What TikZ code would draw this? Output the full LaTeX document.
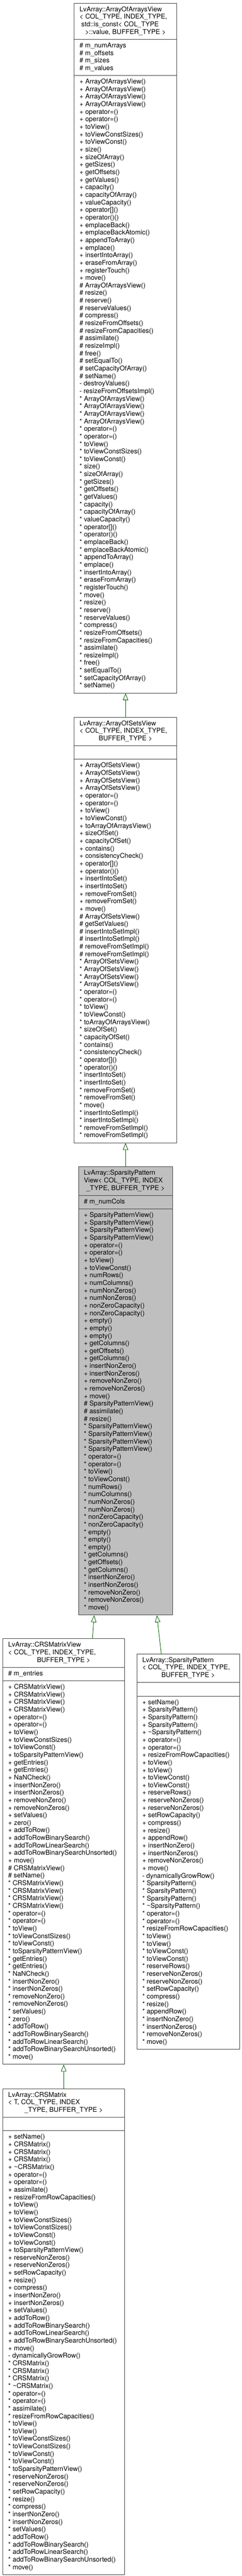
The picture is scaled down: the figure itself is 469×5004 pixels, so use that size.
\documentclass[tikz,border=0pt]{standalone}
\usepackage{fontspec}
\setmainfont{TeX Gyre Heros}
\usetikzlibrary{shapes.multipart, arrows.meta}
\definecolor{umlborder}{RGB}{64,64,64}
\definecolor{umlgreen}{RGB}{0,100,0}
\definecolor{umlgray}{RGB}{191,191,191}
\newdimen\titlew
\newcommand{\classfont}{\fontsize{12.9}{14.665}\selectfont}
\newcommand{\lastline}[1]{\makebox[\titlew][c]{#1}}
\tikzset{
	umlclass/.style={draw=umlborder, line width=1pt, fill=white,
		rectangle split, rectangle split parts=3,
		rectangle split part align={left,left,left},
		align=left, anchor=north west, inner xsep=10.5pt, inner ysep=5.3pt,
		minimum width=#1, font=\classfont,
		execute at begin node={\global\titlew=\dimexpr#1-21pt\relax}},
	inheritarrow/.style={draw=umlgreen, line width=0.9pt,
		-{Triangle[length=13.5pt, width=10.5pt, fill=white]}}
}
\begin{document}
\begin{tikzpicture}[x=1pt, y=-1pt]
	\useasboundingbox (0,0) rectangle (469,5004);
	% ArrayOfArraysView
	\node [umlclass=199.4pt] (aoav) at (143.3,5.7) {\strut LvArray::ArrayOfArraysView\\
		< COL\_TYPE, INDEX\_TYPE,\\
		\hspace{3.5pt}std::is\_const< COL\_TYPE\\
		\lastline{>::value, BUFFER\_TYPE >}\strut
		\nodepart{two}\strut\# m\_numArrays\\
		\# m\_offsets\\
		\# m\_sizes\\
		\# m\_values\strut
		\nodepart{three}\strut+ ArrayOfArraysView()\\
		+ ArrayOfArraysView()\\
		+ ArrayOfArraysView()\\
		+ ArrayOfArraysView()\\
		+ operator=()\\
		+ operator=()\\
		+ toView()\\
		+ toViewConstSizes()\\
		+ toViewConst()\\
		+ size()\\
		+ sizeOfArray()\\
		+ getSizes()\\
		+ getOffsets()\\
		+ getValues()\\
		+ capacity()\\
		+ capacityOfArray()\\
		+ valueCapacity()\\
		+ operator[]()\\
		+ operator()()\\
		+ emplaceBack()\\
		+ emplaceBackAtomic()\\
		+ appendToArray()\\
		+ emplace()\\
		+ insertIntoArray()\\
		+ eraseFromArray()\\
		+ registerTouch()\\
		+ move()\\
		\# ArrayOfArraysView()\\
		\# resize()\\
		\# reserve()\\
		\# reserveValues()\\
		\# compress()\\
		\# resizeFromOffsets()\\
		\# resizeFromCapacities()\\
		\# assimilate()\\
		\# resizeImpl()\\
		\# free()\\
		\# setEqualTo()\\
		\# setCapacityOfArray()\\
		\# setName()\\
		- destroyValues()\\
		- resizeFromOffsetsImpl()\\
		{*} ArrayOfArraysView()\\
		{*} ArrayOfArraysView()\\
		{*} ArrayOfArraysView()\\
		{*} ArrayOfArraysView()\\
		{*} operator=()\\
		{*} operator=()\\
		{*} toView()\\
		{*} toViewConstSizes()\\
		{*} toViewConst()\\
		{*} size()\\
		{*} sizeOfArray()\\
		{*} getSizes()\\
		{*} getOffsets()\\
		{*} getValues()\\
		{*} capacity()\\
		{*} capacityOfArray()\\
		{*} valueCapacity()\\
		{*} operator[]()\\
		{*} operator()()\\
		{*} emplaceBack()\\
		{*} emplaceBackAtomic()\\
		{*} appendToArray()\\
		{*} emplace()\\
		{*} insertIntoArray()\\
		{*} eraseFromArray()\\
		{*} registerTouch()\\
		{*} move()\\
		{*} resize()\\
		{*} reserve()\\
		{*} reserveValues()\\
		{*} compress()\\
		{*} resizeFromOffsets()\\
		{*} resizeFromCapacities()\\
		{*} assimilate()\\
		{*} resizeImpl()\\
		{*} free()\\
		{*} setEqualTo()\\
		{*} setCapacityOfArray()\\
		{*} setName()\strut};
	% ArrayOfSetsView
	\node [umlclass=199.4pt] (aosv) at (143.3,1392.7) {\strut LvArray::ArrayOfSetsView\\
		< COL\_TYPE, INDEX\_TYPE,\\
		\lastline{BUFFER\_TYPE >}\strut
		\nodepart{two}\strut
		\nodepart{three}\strut+ ArrayOfSetsView()\\
		+ ArrayOfSetsView()\\
		+ ArrayOfSetsView()\\
		+ ArrayOfSetsView()\\
		+ operator=()\\
		+ operator=()\\
		+ toView()\\
		+ toViewConst()\\
		+ toArrayOfArraysView()\\
		+ sizeOfSet()\\
		+ capacityOfSet()\\
		+ contains()\\
		+ consistencyCheck()\\
		+ operator[]()\\
		+ operator()()\\
		+ insertIntoSet()\\
		+ insertIntoSet()\\
		+ removeFromSet()\\
		+ removeFromSet()\\
		+ move()\\
		\# ArrayOfSetsView()\\
		\# getSetValues()\\
		\# insertIntoSetImpl()\\
		\# insertIntoSetImpl()\\
		\# removeFromSetImpl()\\
		\# removeFromSetImpl()\\
		{*} ArrayOfSetsView()\\
		{*} ArrayOfSetsView()\\
		{*} ArrayOfSetsView()\\
		{*} ArrayOfSetsView()\\
		{*} operator=()\\
		{*} operator=()\\
		{*} toView()\\
		{*} toViewConst()\\
		{*} toArrayOfArraysView()\\
		{*} sizeOfSet()\\
		{*} capacityOfSet()\\
		{*} contains()\\
		{*} consistencyCheck()\\
		{*} operator[]()\\
		{*} operator()()\\
		{*} insertIntoSet()\\
		{*} insertIntoSet()\\
		{*} removeFromSet()\\
		{*} removeFromSet()\\
		{*} move()\\
		{*} insertIntoSetImpl()\\
		{*} insertIntoSetImpl()\\
		{*} removeFromSetImpl()\\
		{*} removeFromSetImpl()\strut};
	% SparsityPatternView
	\node [umlclass=182.6pt, fill=umlgray] (spv) at (151.7,2266) {\strut LvArray::SparsityPattern\\
		View< COL\_TYPE, INDEX\\
		\lastline{\_TYPE, BUFFER\_TYPE >}\strut
		\nodepart{two}\strut\# m\_numCols\strut
		\nodepart{three}\strut+ SparsityPatternView()\\
		+ SparsityPatternView()\\
		+ SparsityPatternView()\\
		+ SparsityPatternView()\\
		+ operator=()\\
		+ operator=()\\
		+ toView()\\
		+ toViewConst()\\
		+ numRows()\\
		+ numColumns()\\
		+ numNonZeros()\\
		+ numNonZeros()\\
		+ nonZeroCapacity()\\
		+ nonZeroCapacity()\\
		+ empty()\\
		+ empty()\\
		+ empty()\\
		+ getColumns()\\
		+ getOffsets()\\
		+ getColumns()\\
		+ insertNonZero()\\
		+ insertNonZeros()\\
		+ removeNonZero()\\
		+ removeNonZeros()\\
		+ move()\\
		\# SparsityPatternView()\\
		\# assimilate()\\
		\# resize()\\
		{*} SparsityPatternView()\\
		{*} SparsityPatternView()\\
		{*} SparsityPatternView()\\
		{*} SparsityPatternView()\\
		{*} operator=()\\
		{*} operator=()\\
		{*} toView()\\
		{*} toViewConst()\\
		{*} numRows()\\
		{*} numColumns()\\
		{*} numNonZeros()\\
		{*} numNonZeros()\\
		{*} nonZeroCapacity()\\
		{*} nonZeroCapacity()\\
		{*} empty()\\
		{*} empty()\\
		{*} empty()\\
		{*} getColumns()\\
		{*} getOffsets()\\
		{*} getColumns()\\
		{*} insertNonZero()\\
		{*} insertNonZeros()\\
		{*} removeNonZero()\\
		{*} removeNonZeros()\\
		{*} move()\strut};
	% CRSMatrixView
	\node [umlclass=236pt] (crsv) at (5,3182.7) {\strut LvArray::CRSMatrixView\\
		< COL\_TYPE, INDEX\_TYPE,\\
		\lastline{BUFFER\_TYPE >}\strut
		\nodepart{two}\strut\# m\_entries\strut
		\nodepart{three}\strut+ CRSMatrixView()\\
		+ CRSMatrixView()\\
		+ CRSMatrixView()\\
		+ CRSMatrixView()\\
		+ operator=()\\
		+ operator=()\\
		+ toView()\\
		+ toViewConstSizes()\\
		+ toViewConst()\\
		+ toSparsityPatternView()\\
		+ getEntries()\\
		+ getEntries()\\
		+ NaNCheck()\\
		+ insertNonZero()\\
		+ insertNonZeros()\\
		+ removeNonZero()\\
		+ removeNonZeros()\\
		+ setValues()\\
		+ zero()\\
		+ addToRow()\\
		+ addToRowBinarySearch()\\
		+ addToRowLinearSearch()\\
		+ addToRowBinarySearchUnsorted()\\
		+ move()\\
		\# CRSMatrixView()\\
		\# setName()\\
		{*} CRSMatrixView()\\
		{*} CRSMatrixView()\\
		{*} CRSMatrixView()\\
		{*} CRSMatrixView()\\
		{*} operator=()\\
		{*} operator=()\\
		{*} toView()\\
		{*} toViewConstSizes()\\
		{*} toViewConst()\\
		{*} toSparsityPatternView()\\
		{*} getEntries()\\
		{*} getEntries()\\
		{*} NaNCheck()\\
		{*} insertNonZero()\\
		{*} insertNonZeros()\\
		{*} removeNonZero()\\
		{*} removeNonZeros()\\
		{*} setValues()\\
		{*} zero()\\
		{*} addToRow()\\
		{*} addToRowBinarySearch()\\
		{*} addToRowLinearSearch()\\
		{*} addToRowBinarySearchUnsorted()\\
		{*} move()\strut};
	% SparsityPattern
	\node [umlclass=199pt] (sp) at (265,3212.3) {\strut LvArray::SparsityPattern\\
		< COL\_TYPE, INDEX\_TYPE,\\
		\lastline{BUFFER\_TYPE >}\strut
		\nodepart{two}\strut
		\nodepart{three}\strut+ setName()\\
		+ SparsityPattern()\\
		+ SparsityPattern()\\
		+ SparsityPattern()\\
		+ \textasciitilde SparsityPattern()\\
		+ operator=()\\
		+ operator=()\\
		+ resizeFromRowCapacities()\\
		+ toView()\\
		+ toView()\\
		+ toViewConst()\\
		+ toViewConst()\\
		+ reserveRows()\\
		+ reserveNonZeros()\\
		+ reserveNonZeros()\\
		+ setRowCapacity()\\
		+ compress()\\
		+ resize()\\
		+ appendRow()\\
		+ insertNonZero()\\
		+ insertNonZeros()\\
		+ removeNonZeros()\\
		+ move()\\
		- dynamicallyGrowRow()\\
		{*} SparsityPattern()\\
		{*} SparsityPattern()\\
		{*} SparsityPattern()\\
		{*} \textasciitilde SparsityPattern()\\
		{*} operator=()\\
		{*} operator=()\\
		{*} resizeFromRowCapacities()\\
		{*} toView()\\
		{*} toView()\\
		{*} toViewConst()\\
		{*} toViewConst()\\
		{*} reserveRows()\\
		{*} reserveNonZeros()\\
		{*} reserveNonZeros()\\
		{*} setRowCapacity()\\
		{*} compress()\\
		{*} resize()\\
		{*} appendRow()\\
		{*} insertNonZero()\\
		{*} insertNonZeros()\\
		{*} removeNonZeros()\\
		{*} move()\strut};
	% CRSMatrix
	\node [umlclass=236pt] (crs) at (5,4056.7) {\strut LvArray::CRSMatrix\\
		< T, COL\_TYPE, INDEX\\
		\lastline{\_TYPE, BUFFER\_TYPE >}\strut
		\nodepart{two}\strut
		\nodepart{three}\strut+ setName()\\
		+ CRSMatrix()\\
		+ CRSMatrix()\\
		+ CRSMatrix()\\
		+ \textasciitilde CRSMatrix()\\
		+ operator=()\\
		+ operator=()\\
		+ assimilate()\\
		+ resizeFromRowCapacities()\\
		+ toView()\\
		+ toView()\\
		+ toViewConstSizes()\\
		+ toViewConstSizes()\\
		+ toViewConst()\\
		+ toViewConst()\\
		+ toSparsityPatternView()\\
		+ reserveNonZeros()\\
		+ reserveNonZeros()\\
		+ setRowCapacity()\\
		+ resize()\\
		+ compress()\\
		+ insertNonZero()\\
		+ insertNonZeros()\\
		+ setValues()\\
		+ addToRow()\\
		+ addToRowBinarySearch()\\
		+ addToRowLinearSearch()\\
		+ addToRowBinarySearchUnsorted()\\
		+ move()\\
		- dynamicallyGrowRow()\\
		{*} CRSMatrix()\\
		{*} CRSMatrix()\\
		{*} CRSMatrix()\\
		{*} \textasciitilde CRSMatrix()\\
		{*} operator=()\\
		{*} operator=()\\
		{*} assimilate()\\
		{*} resizeFromRowCapacities()\\
		{*} toView()\\
		{*} toView()\\
		{*} toViewConstSizes()\\
		{*} toViewConstSizes()\\
		{*} toViewConst()\\
		{*} toViewConst()\\
		{*} toSparsityPatternView()\\
		{*} reserveNonZeros()\\
		{*} reserveNonZeros()\\
		{*} setRowCapacity()\\
		{*} resize()\\
		{*} compress()\\
		{*} insertNonZero()\\
		{*} insertNonZeros()\\
		{*} setValues()\\
		{*} addToRow()\\
		{*} addToRowBinarySearch()\\
		{*} addToRowLinearSearch()\\
		{*} addToRowBinarySearchUnsorted()\\
		{*} move()\strut};
	% inheritance
	\draw [inheritarrow] (aosv.north) -- (aoav.south);
	\draw [inheritarrow] (spv.north) -- (aosv.south);
	\draw [inheritarrow] ([xshift=-62.7pt]crsv.north east) -- ([xshift=31pt]spv.south west);
	\draw [inheritarrow] ([xshift=47.7pt]sp.north west) -- ([xshift=-31pt]spv.south east);
	\draw [inheritarrow] (crs.north) -- (crsv.south);
\end{tikzpicture}
\end{document}
